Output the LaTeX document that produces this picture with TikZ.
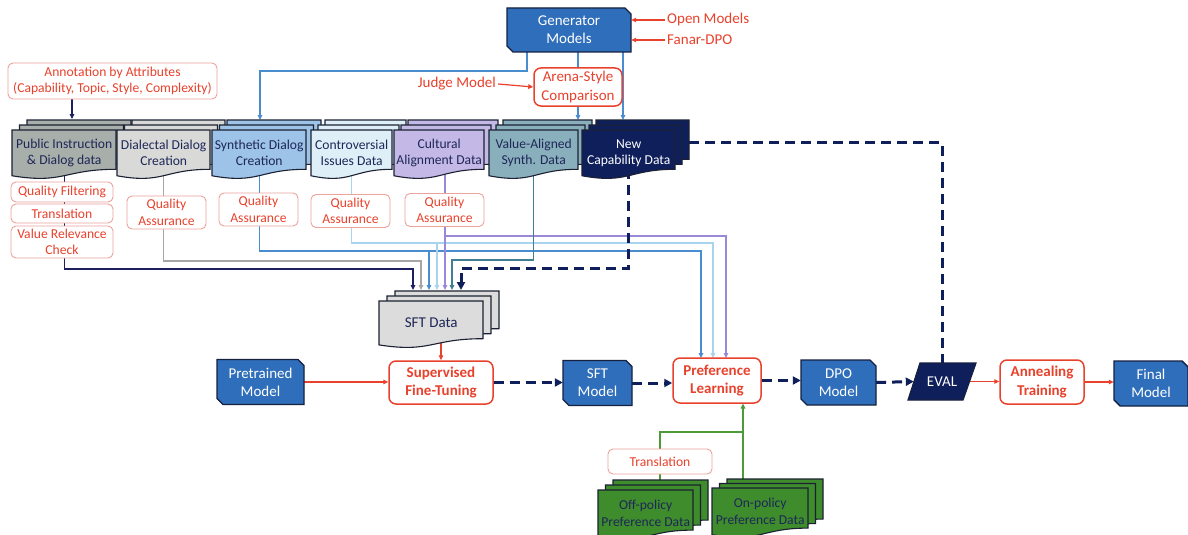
\documentclass[tikz,border=0pt]{standalone}
\usepackage{fontspec}
\setmainfont{Carlito}
\usetikzlibrary{arrows.meta,calc}
\pgfdeclarelayer{bg}
\pgfsetlayers{bg,main}
\definecolor{mblue}{HTML}{2F6EBA}
\definecolor{mline}{HTML}{16203F}
\definecolor{navy}{HTML}{0E1F5B}
\definecolor{tnavy}{HTML}{1E2757}
\definecolor{red1}{HTML}{E8412C}
\definecolor{lred}{HTML}{EBA39C}
\definecolor{cpub}{HTML}{A8AEA9}
\definecolor{cdial}{HTML}{D9DAD8}
\definecolor{csyn}{HTML}{9DC3E8}
\definecolor{ccon}{HTML}{DEEFF8}
\definecolor{ccul}{HTML}{C4B9E6}
\definecolor{cval}{HTML}{8AAFBC}
\definecolor{csft}{HTML}{DCDCDC}
\definecolor{cgreen}{HTML}{3E8C2C}
\definecolor{lgray}{HTML}{A6A6A6}
\definecolor{lblue}{HTML}{4A8DCF}
\definecolor{llblue}{HTML}{A8D4EE}
\definecolor{lpurp}{HTML}{9A88D8}
\definecolor{lteal}{HTML}{3F7F93}
\definecolor{lnavy}{HTML}{1E1F5E}
\definecolor{lgreen}{HTML}{4C9A3A}
\definecolor{sline}{HTML}{1B2133}
\newcommand\fsL{\fontsize{15}{18.3}\selectfont}
\newcommand\fsS{\fontsize{13.6}{16.5}\selectfont}
\tikzset{
 >={Triangle[length=5pt,width=4.5pt]},
 c1/.style={line width=1.2pt},
 dsh/.style={line width=3pt, draw=navy, dash pattern=on 10pt off 6pt, >={Triangle[length=8pt,width=8pt]}},
 proc/.style={draw=red1, line width=1.5pt, rounded corners=7pt, fill=white, text=red1, font=\fsL\bfseries, align=center, inner sep=0pt},
 arenabox/.style={proc, font=\fsL},
 note/.style={draw=lred, line width=0.9pt, rounded corners=5pt, fill=white, text=red1, font=\fsS, align=center, inner sep=0pt},
 lbl/.style={text=red1, font=\fsL, inner sep=2pt},
 modeltext/.style={text=white, font=\fsL, align=center, inner sep=0pt},
 modelfill/.style={fill=mblue, draw=mline, line width=1.4pt},
 stk/.style={draw=sline, line width=1.1pt},
 stktext/.style={inner sep=0pt, align=center, font=\fsS, text=tnavy},
}
\newcommand\docshape[5]{%
 \path[#1] ({#2},{#3}) -- ({#2+#4},{#3}) -- ({#2+#4},{#3+0.802*#5}) .. controls ({#2+0.5*#4},{#3+0.802*#5}) and ({#2+0.5*#4},{#3+1.1075*#5}) .. ({#2},{#3+0.934*#5}) -- cycle;}
\newcommand\mstack[9]{%
 \docshape{stk,#8}{#2+2*#6}{#3-2*#7}{#4}{#5}
 \node[inner sep=0pt, minimum width=#4pt, minimum height={0.802*#5pt}, anchor=north west] (#1B) at ({#2+2*#6},{#3-2*#7}) {};
 \docshape{stk,#8}{#2+#6}{#3-#7}{#4}{#5}
 \docshape{stk,#8}{#2}{#3}{#4}{#5}
 \node[stktext,#8,fill=none,draw=none, minimum width=#4pt, minimum height={0.933*#5pt}, anchor=north west] (#1) at ({#2},{#3}) {#9};}
\newcommand\modelbox[6]{%
 \path[modelfill] ({#2-#4/2},{#3-#5/2}) -- ({#2+#4/2-6},{#3-#5/2}) -- ({#2+#4/2},{#3-#5/2+6}) -- ({#2+#4/2},{#3+#5/2}) -- ({#2-#4/2+6},{#3+#5/2}) -- ({#2-#4/2},{#3+#5/2-6}) -- cycle;
 \node[modeltext, minimum width=#4pt, minimum height=#5pt] (#1) at (#2,#3) {#6};}
\begin{document}
\begin{tikzpicture}[x=1pt,y=-1pt]
\useasboundingbox (0,0) rectangle (1188,535);
% models
\modelbox{gen}{569}{30}{124}{44}{Generator\\Models}
\modelbox{pre}{260.5}{382}{87}{45}{Pretrained\\Model}
\modelbox{sftm}{597.5}{383}{69}{45}{SFT\\Model}
\modelbox{dpo}{838.5}{382.5}{75}{45}{DPO\\Model}
\modelbox{fin}{1151}{383.5}{74}{45}{Final\\Model}
\path[fill=navy, draw=mline, line width=1.2pt] (908,400) -- (920,363) -- (976,363) -- (963,400) -- cycle;
\node[modeltext, minimum width=56pt, minimum height=37pt] (eval) at (942,381.5) {EVAL};
% labels
\node[lbl, anchor=west] (openm) at (665,20) {Open Models};
\node[lbl, anchor=west] (fanar) at (665,40) {Fanar-DPO};
\node[lbl, anchor=east] (judge) at (498,84) {Judge Model};
\node[arenabox, minimum width=88pt, minimum height=38pt] (arena) at (578,87) {Arena-Style\\Comparison};
\node[note, minimum width=209pt, minimum height=36pt] (annot) at (112.5,81) {Annotation by Attributes\\(Capability, Topic, Style, Complexity)};
% stacks
\mstack{pub}{12}{130}{104}{49}{7.5}{5}{fill=cpub}{Public Instruction\\\& Dialog data}
\mstack{dial}{117}{130}{93}{49}{7.5}{5}{fill=cdial}{Dialectal Dialog\\Creation}
\mstack{syn}{212}{130}{94}{49}{7.5}{5}{fill=csyn}{Synthetic Dialog\\Creation}
\mstack{contr}{311}{130}{81}{49}{7}{5}{fill=ccon}{Controversial\\Issues Data}
\mstack{cult}{394}{130}{90}{49}{7}{5}{fill=ccul}{Cultural\\Alignment Data}
\mstack{val}{489}{130}{89}{49}{7}{5}{fill=cval}{Value-Aligned\\Synth. Data}
\mstack{newc}{582}{130}{93}{49}{7}{5}{fill=navy,text=white}{New\\Capability Data}
\mstack{sftd}{379}{301}{104}{47}{8}{5}{fill=csft}{{\fsL SFT Data}}
\mstack{offp}{598}{490}{95}{50}{7.5}{5}{fill=cgreen}{Off-policy\\Preference Data}
\mstack{onp}{712}{488}{96}{50}{7.5}{4.5}{fill=cgreen}{On-policy\\Preference Data}
% notes
\node[note, minimum width=102pt, minimum height=20pt] (qf) at (62,192) {Quality Filtering};
\node[note, minimum width=102pt, minimum height=19pt] (tr) at (62,213.5) {Translation};
\node[note, minimum width=102pt, minimum height=32pt] (vr) at (62,242) {Value Relevance\\Check};
\node[note, minimum width=79pt, minimum height=33pt] (qa1) at (166.5,212.5) {Quality\\Assurance};
\node[note, minimum width=79pt, minimum height=33pt] (qa2) at (258.5,209.5) {Quality\\Assurance};
\node[note, minimum width=79pt, minimum height=33pt] (qa3) at (350.5,211) {Quality\\Assurance};
\node[note, minimum width=79pt, minimum height=33pt] (qa4) at (444.5,210) {Quality\\Assurance};
\node[note, minimum width=104pt, minimum height=25pt] (trg) at (660,461.5) {Translation};
% processes
\node[proc, minimum width=104pt, minimum height=43pt] (sft) at (441,382.5) {Supervised\\Fine-Tuning};
\node[proc, minimum width=88pt, minimum height=45pt] (pl) at (717,380.5) {Preference\\Learning};
\node[proc, minimum width=84pt, minimum height=44pt] (ann) at (1042,382) {Annealing\\Training};
% coordinates
\coordinate (synIn) at (260,120);
\coordinate (valIn) at (578,120);
\coordinate (newIn) at (623,120);
\coordinate (pubIn) at (72,119);
\coordinate (sftA1) at (413,290);
\coordinate (sftA2) at (421,290);
\coordinate (sftA3) at (429,290);
\coordinate (sftA4) at (437,290);
\coordinate (sftA5) at (445,290);
\coordinate (sftA6) at (452,290);
\coordinate (sftA7) at (461,290);
\coordinate (plA1) at (701,358);
\coordinate (plA2) at (713,358);
\coordinate (plA3) at (726,358);
\coordinate (plG) at (743,403.5);
\begin{pgfonlayer}{bg}
\fill[white] (0,0) rectangle (1188,535);
\draw[c1,lblue,->] ($(gen.south)+(-42,0)$) |- (260,71) -- (synIn);
\draw[c1,lblue] (arena.north |- gen.south) -- (arena.north);
\draw[c1,lblue,->] (arena.south) -- (valIn);
\draw[c1,lblue,->] (newIn |- gen.south) -- (newIn);
\draw[c1,red1,->] (openm.west) -- (openm.west -| gen.east);
\draw[c1,red1,->] (fanar.west) -- (fanar.west -| gen.east);
\draw[c1,red1,->] (judge.east) -- (arena.west);
\draw[c1,lnavy,->] (annot.south -| pubIn) -- (pubIn);
\draw[c1,lnavy,->] (pub.center) |- (413,269) -- (sftA1);
\draw[c1,lgray,->] (dial.center) |- (421,261) -- (sftA2);
\draw[c1,lblue,->] (syn.center) |- (701,251) -- (plA1);
\draw[c1,lblue,->] (429,251) -- (sftA3);
\draw[c1,llblue,->] (contr.center) |- (713,243) -- (plA2);
\draw[c1,llblue,->] (437,243) -- (sftA4);
\draw[c1,lpurp,->] (cult.center -| sftA5) -- (sftA5);
\draw[c1,lpurp,->] (445,236) -| (plA3);
\draw[c1,lteal,->] (val.center) |- (452,260) -- (sftA6);
\draw[dsh,->] (newc.center) |- (461,268) -- (sftA7);
\draw[dsh] ($(newcB.east)+(0,3)$) -| (eval.north);
\draw[c1,red1,->] (sft.north |- sftd.center) -- (sft.north);
\draw[c1,red1,->] (pre.east) -- (pre.east -| sft.west);
\draw[dsh,->] (sft.east) -- (sft.east -| sftm.west);
\draw[dsh,->] (sftm.east) -- (sftm.east -| pl.west);
\draw[dsh,->] (pl.east) -- (pl.east -| dpo.west);
\draw[dsh,->] (dpo.east) -- (eval.west);
\draw[c1,red1,->] (eval.east) -- (eval.east -| ann.west);
\draw[c1,red1,->] (ann.east) -- (ann.east -| fin.west);
\draw[c1,lgreen,->] (onpB.north -| plG) -- (plG);
\draw[c1,lgreen] (743,432) -| (trg.north);
\draw[c1,lgreen] (trg.south) -- (trg.south |- offpB.north);
\end{pgfonlayer}
\end{tikzpicture}
\end{document}
